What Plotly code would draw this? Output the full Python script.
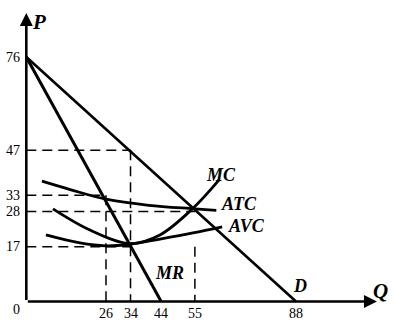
import plotly.graph_objects as go

# ---- data ----
x_ticks = [26, 34, 44, 55, 88]
y_ticks = [76, 47, 33, 28, 17]

demand_q = [0, 88]
demand_p = [76, 0]
mr_q = [0, 44]
mr_p = [76, 0]

mc_q = [8.7, 20.8, 33.8, 43.6, 54.4, 62.9]
mc_p = [28.8, 22.2, 18.0, 20.7, 29.0, 37.8]

atc_q = [5.1, 14.3, 26.0, 40.0, 55.0, 62.0]
atc_p = [37.4, 34.8, 31.8, 29.9, 28.8, 28.3]

avc_q = [6.4, 17.5, 26.0, 33.8, 43.6, 54.4, 63.9]
avc_p = [20.7, 18.2, 17.3, 17.8, 19.4, 21.3, 23.2]

# guide (dashed) segments: (q0, p0, q1, p1)
guides = [
    (0, 47, 34, 47), (34, 47, 34, 0),
    (0, 33, 26, 33), (26, 33, 26, 0),
    (0, 28, 55, 28),
    (0, 17, 34, 17),
    (55, 17, 55, 0),
]

# ---- pixel calibration ----
W, H = 395, 326
x0_px, y0_px = 26.3, 301.5
sx, sy = 3.065, 3.217
xr = [-x0_px / sx, (W - x0_px) / sx]
yr = [-(H - y0_px) / sy, y0_px / sy]

fig = go.Figure()

for q0, p0, q1, p1 in guides:
    fig.add_trace(go.Scatter(x=[q0, q1], y=[p0, p1], mode="lines",
                             line=dict(color="black", width=1.5, dash="10px,6px"),
                             hoverinfo="skip", showlegend=False))

fig.add_trace(go.Scatter(x=demand_q, y=demand_p, mode="lines",
                         line=dict(color="black", width=2.6), showlegend=False))
fig.add_trace(go.Scatter(x=mr_q, y=mr_p, mode="lines",
                         line=dict(color="black", width=3), showlegend=False))
for q, p in [(mc_q, mc_p), (atc_q, atc_p), (avc_q, avc_p)]:
    fig.add_trace(go.Scatter(x=q, y=p, mode="lines",
                             line=dict(color="black", width=2.8, shape="spline", smoothing=1),
                             showlegend=False))

# axes with arrows
fig.add_annotation(x=0, y=89.7, ax=0, ay=0, xref="x", yref="y", axref="x", ayref="y",
                   showarrow=True, arrowhead=2, arrowsize=1.0, arrowwidth=2.6,
                   arrowcolor="black", standoff=0, text="")
fig.add_annotation(x=114.4, y=0, ax=0, ay=0, xref="x", yref="y", axref="x", ayref="y",
                   showarrow=True, arrowhead=2, arrowsize=1.0, arrowwidth=2.6,
                   arrowcolor="black", standoff=0, text="")

tick_font = dict(family="Liberation Serif", size=14, color="black")
for v in y_ticks:
    fig.add_annotation(x=-1.5, y=v, text=str(v), showarrow=False, xanchor="right",
                       yanchor="middle", font=tick_font)
for v in x_ticks:
    fig.add_annotation(x=v, y=-3.6, text=str(v), showarrow=False, xanchor="center",
                       yanchor="middle", font=tick_font)
fig.add_annotation(x=-3.2, y=-2.6, text="0", showarrow=False, font=tick_font)

lab_font = dict(family="Liberation Serif", size=18, color="black")
axis_font = dict(family="Liberation Serif", size=21, color="black")
labels = [("D", 89.3, 4.8), ("MR", 46.6, 8.9),
          ("MC", 63.6, 39.3), ("ATC", 69.4, 30.3), ("AVC", 72.0, 23.5)]
for t, q, p in labels:
    fig.add_annotation(x=q, y=p, text=f"<b><i>{t}</i></b>", showarrow=False,
                       xanchor="center", yanchor="middle", font=lab_font)
for t, q, p in [("P", 4.3, 87.0), ("Q", 115.4, 3.4)]:
    fig.add_annotation(x=q, y=p, text=f"<b><i>{t}</i></b>", showarrow=False,
                       xanchor="center", yanchor="middle", font=axis_font)

fig.update_layout(width=W, height=H, margin=dict(l=0, r=0, t=0, b=0),
                  paper_bgcolor="white", plot_bgcolor="white",
                  xaxis=dict(range=xr, visible=False, fixedrange=True),
                  yaxis=dict(range=yr, visible=False, fixedrange=True))

fig.write_html("out.html")
